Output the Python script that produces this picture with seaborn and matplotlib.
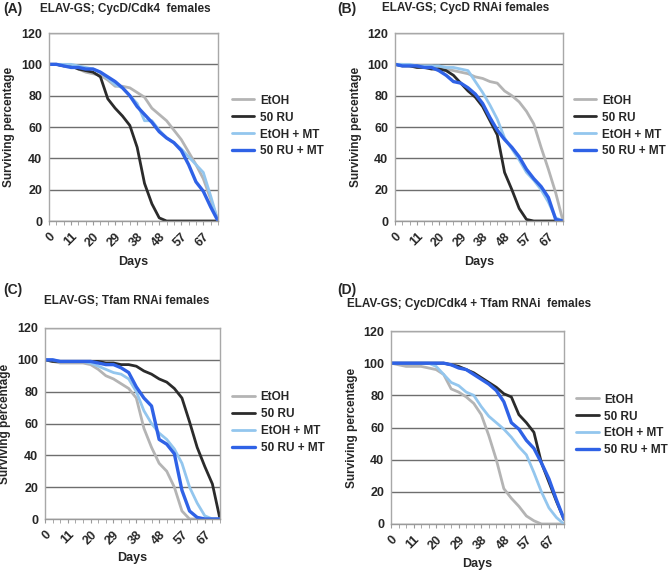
import numpy as np
import pandas as pd
import matplotlib
matplotlib.use("Agg")
import matplotlib.pyplot as plt
from matplotlib.lines import Line2D
import seaborn as sns


# ================== DATA ==================
# category axis (Excel style), label shown every 3rd category
DAYS = [0, 4, 7, 11, 14, 17, 20, 23, 26, 29, 32, 35, 38, 41, 45, 48, 51, 54, 57, 60, 64, 67, 70, 72]
GROUPS = ["EtOH", "50 RU", "EtOH + MT", "50 RU + MT"]

# (A) ELAV-GS; CycD/Cdk4 females
a_etoh = [100, 100, 99, 99, 97, 95, 94, 93, 90, 86, 86, 85, 82, 79, 72, 68, 64, 58, 52, 44, 36, 27, 14, 0]
a_ru = [100, 100, 99, 99, 97, 96, 95, 92, 78, 72, 67, 61, 47, 24, 11, 2, 0, 0, 0, 0, 0, 0, 0, 0]
a_etoh_mt = [100, 100, 100, 100, 99, 98, 97, 95, 91, 87, 85, 80, 75, 64, 64, 58, 53, 50, 46, 41, 36, 31, 16, 0]
a_ru_mt = [100, 100, 99, 98, 98, 97, 97, 95, 92, 89, 85, 80, 73, 68, 63, 57, 53, 50, 45, 36, 25, 19, 9, 0]

# (B) ELAV-GS; CycD RNAi females
b_etoh = [100, 100, 99, 99, 99, 99, 98, 97, 96, 95, 94, 92, 91, 89, 88, 83, 80, 76, 70, 62, 47, 33, 18, 0]
b_ru = [100, 99, 99, 98, 98, 97, 97, 96, 93, 88, 83, 79, 73, 64, 55, 31, 20, 8, 1, 0, 0, 0, 0, 0]
b_etoh_mt = [100, 100, 100, 99, 99, 99, 99, 98, 98, 97, 96, 89, 82, 74, 65, 53, 46, 39, 31, 26, 20, 12, 2, 0]
b_ru_mt = [100, 99, 99, 99, 98, 98, 96, 93, 89, 88, 85, 81, 75, 66, 58, 52, 47, 41, 33, 27, 22, 15, 1, 0]

# (C) ELAV-GS; Tfam RNAi females
c_etoh = [100, 99, 98, 98, 98, 98, 97, 94, 90, 88, 85, 82, 76, 57, 45, 35, 30, 20, 5, 0, 0, 0, 0, 0]
c_ru = [100, 99, 99, 99, 99, 99, 99, 99, 98, 98, 97, 97, 96, 93, 91, 88, 86, 82, 76, 61, 45, 33, 22, 0]
c_etoh_mt = [100, 100, 99, 99, 99, 99, 98, 96, 94, 92, 91, 88, 80, 68, 60, 54, 50, 44, 35, 20, 10, 2, 0, 0]
c_ru_mt = [100, 100, 99, 99, 99, 99, 99, 98, 97, 97, 95, 92, 83, 76, 71, 50, 47, 41, 18, 5, 1, 0, 0, 0]

# (D) ELAV-GS; CycD/Cdk4 + Tfam RNAi females
d_etoh = [100, 99, 98, 98, 98, 97, 96, 93, 84, 82, 79, 75, 68, 55, 40, 22, 16, 11, 5, 2, 0, 0, 0, 0]
d_ru = [100, 100, 100, 100, 100, 100, 100, 100, 99, 98, 96, 94, 91, 88, 85, 81, 79, 68, 63, 57, 38, 26, 14, 3]
d_etoh_mt = [100, 100, 100, 100, 100, 100, 98, 93, 88, 86, 82, 80, 73, 67, 63, 59, 54, 48, 43, 32, 20, 10, 4, 0]
d_ru_mt = [100, 100, 100, 100, 100, 100, 100, 100, 99, 97, 96, 93, 90, 87, 83, 76, 63, 59, 52, 47, 38, 28, 15, 3]

PANELS = [
    ("(A)", "ELAV-GS; CycD/Cdk4  females", [a_etoh, a_ru, a_etoh_mt, a_ru_mt]),
    ("(B)", "ELAV-GS; CycD RNAi females", [b_etoh, b_ru, b_etoh_mt, b_ru_mt]),
    ("(C)", "ELAV-GS; Tfam RNAi females", [c_etoh, c_ru, c_etoh_mt, c_ru_mt]),
    ("(D)", "ELAV-GS; CycD/Cdk4 + Tfam RNAi  females", [d_etoh, d_ru, d_etoh_mt, d_ru_mt]),
]

COLORS = ["#b4b4b4", "#2b2b2b", "#93c6ee", "#2f62e6"]
WIDTHS = [2.0, 2.0, 2.0, 2.4]

# ================== LAYOUT ==================
W, H = 668, 572
AX_PX = [(49, 33, 218, 221), (395, 33, 563, 221), (45, 328, 220, 519), (391, 331, 564, 524)]
LEG_ANCHOR = [(1.08, 0.505), (1.065, 0.505), (1.07, 0.505), (1.07, 0.513)]
LETTER_POS = [(3, 9), (337, 9), (3, 290), (337, 290)]
TITLE_POS = [(40, 9), (382, 8), (44, 301), (347, 304)]
DAYS_Y = [262, 262, 558, 564]

sns.set_style("white")
plt.rcParams["font.family"] = ["Liberation Sans", "DejaVu Sans"]
plt.rcParams["font.weight"] = "bold"

fig = plt.figure(figsize=(W / 100, H / 100), dpi=100)

idx = np.arange(len(DAYS))

for p, (letter, title, series) in enumerate(PANELS):
    l, t, r, b = AX_PX[p]
    ax = fig.add_axes([l / W, 1 - b / H, (r - l) / W, (b - t) / H])

    rows = []
    for g, vals in zip(GROUPS, series):
        for i, v in zip(idx, vals):
            rows.append({"idx": i, "pct": v, "group": g})
    df = pd.DataFrame(rows)

    for g, c, lw in zip(GROUPS, COLORS, WIDTHS):
        sns.lineplot(data=df[df["group"] == g], x="idx", y="pct", color=c,
                     linewidth=lw, ax=ax, legend=False)

    ax.set_xlim(0, len(DAYS) - 1)
    ax.set_ylim(0, 120)
    ax.set_yticks(range(0, 121, 20))
    ax.yaxis.grid(True, color="#6e6e6e", linewidth=1.0)
    ax.set_axisbelow(True)
    for s in ax.spines.values():
        s.set_color("#a8a8a8")
        s.set_linewidth(1.0)
    ax.spines["bottom"].set_color("#9a9a9a")

    ax.set_xticks(idx[::3])
    ax.set_xticklabels([str(DAYS[i]) for i in idx[::3]], rotation=45,
                       ha="right", rotation_mode="anchor", fontsize=9,
                       fontweight="bold")
    ax.set_xticks(idx, minor=True)
    ax.tick_params(axis="x", which="both", direction="out", length=3,
                   color="#9a9a9a", bottom=True, pad=4)
    ax.tick_params(axis="y", length=0, pad=5, labelsize=9)
    for lab in ax.get_yticklabels():
        lab.set_fontweight("bold")

    ax.set_xlabel("")
    ax.set_ylabel("Surviving percentage", fontsize=8.5, fontweight="bold",
                  labelpad=4)
    fig.text((l + r) / 2 / W, 1 - DAYS_Y[p] / H, "Days", ha="center",
             va="center", fontsize=9, fontweight="bold")

    handles = [Line2D([], [], color=c, lw=lw) for c, lw in zip(COLORS, WIDTHS)]
    ax.legend(handles, GROUPS, loc="center left",
              bbox_to_anchor=LEG_ANCHOR[p], frameon=False, borderaxespad=0,
              borderpad=0, handlelength=1.9, handletextpad=0.5,
              labelspacing=0.42, prop={"size": 8.5, "weight": "bold"})

    fig.text(LETTER_POS[p][0] / W, 1 - LETTER_POS[p][1] / H, letter,
             ha="left", va="center", fontsize=10, fontweight="bold")
    fig.text(TITLE_POS[p][0] / W, 1 - TITLE_POS[p][1] / H, title,
             ha="left", va="center", fontsize=8.5, fontweight="bold")

fig.savefig("out.png", dpi=100)
